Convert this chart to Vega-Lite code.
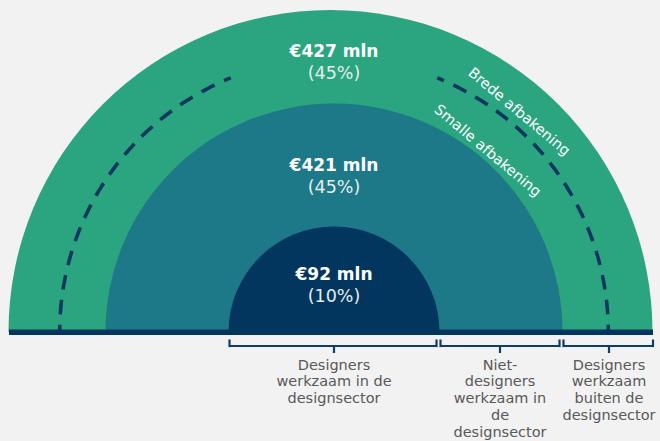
{
  "$schema": "https://vega.github.io/schema/vega-lite/v6.json",
  "width": 660,
  "height": 441,
  "autosize": {"type": "fit", "contains": "padding"},
  "padding": 0,
  "background": "#f2f2f2",
  "config": {"view": {"stroke": null}, "font": "DejaVu Sans"},
  "datasets": {
    "rings": [
      {"segment": "Designers werkzaam buiten de designsector", "value": 427, "share": "(45%)", "label": "€427 mln", "cum": 940, "ymid": 726.5},
      {"segment": "Niet-designers werkzaam in de designsector", "value": 421, "share": "(45%)", "label": "€421 mln", "cum": 513, "ymid": 302.5},
      {"segment": "Designers werkzaam in de designsector", "value": 92, "share": "(10%)", "label": "€92 mln", "cum": 92, "ymid": 46}
    ],
    "brackets": [
      {"segment": "Designers werkzaam in de designsector", "text": "Designers\nwerkzaam in de\ndesignsector", "lo": -92, "hi": 92, "mid": 0},
      {"segment": "Niet-designers werkzaam in de designsector", "text": "Niet-\ndesigners\nwerkzaam in\nde\ndesignsector", "lo": 92, "hi": 513, "mid": 302.5},
      {"segment": "Designers werkzaam buiten de designsector", "text": "Designers\nwerkzaam\nbuiten de\ndesignsector", "lo": 513, "hi": 940, "mid": 726.5}
    ],
    "one": [{"k": "Brede afbakening"}],
    "two": [{"k": "Smalle afbakening"}]
  },
  "layer": [
    {
      "data": {"name": "rings"},
      "transform": [{"filter": "datum.cum == 940"}],
      "mark": {"type": "arc", "theta": -1.5707963, "theta2": 1.5707963, "xOffset": -3.5},
      "encoding": {
        "x": {"datum": 0, "type": "quantitative", "axis": null, "scale": {"type": "linear", "domain": [-940, -513, -92, 0, 92, 302.5, 513, 726.5, 940], "range": [12, 105.5, 228.5, 334, 439.5, 500, 562.5, 609, 656], "nice": false, "zero": false}},
        "y": {"datum": 0, "type": "quantitative", "axis": null, "scale": {"type": "linear", "domain": [-109, 0, 46, 302.5, 726.5], "range": [441, 332, 285, 176.3, 62.2], "nice": false, "zero": false}},
        "radius": {"field": "cum", "type": "quantitative", "stack": null, "scale": {"type": "linear", "domain": [0, 92, 513, 940], "range": [0, 105.5, 228.5, 322], "zero": false, "nice": false}},
        "color": {"field": "segment", "type": "nominal", "legend": null, "scale": {"domain": ["Designers werkzaam buiten de designsector", "Niet-designers werkzaam in de designsector", "Designers werkzaam in de designsector"], "range": ["#2aa57f", "#1d7888", "#03365f"]}}
      }
    },
    {
      "data": {"name": "rings"},
      "transform": [{"filter": "datum.cum != 940"}],
      "mark": {"type": "arc", "theta": -1.5707963, "theta2": 1.5707963},
      "encoding": {
        "x": {"datum": 0, "type": "quantitative", "axis": null, "scale": {"type": "linear", "domain": [-940, -513, -92, 0, 92, 302.5, 513, 726.5, 940], "range": [12, 105.5, 228.5, 334, 439.5, 500, 562.5, 609, 656], "nice": false, "zero": false}},
        "y": {"datum": 0, "type": "quantitative", "axis": null, "scale": {"type": "linear", "domain": [-109, 0, 46, 302.5, 726.5], "range": [441, 332, 285, 176.3, 62.2], "nice": false, "zero": false}},
        "radius": {"field": "cum", "type": "quantitative", "stack": null, "scale": {"type": "linear", "domain": [0, 92, 513, 940], "range": [0, 105.5, 228.5, 322], "zero": false, "nice": false}},
        "color": {"field": "segment", "type": "nominal", "legend": null, "scale": {"domain": ["Designers werkzaam buiten de designsector", "Niet-designers werkzaam in de designsector", "Designers werkzaam in de designsector"], "range": ["#2aa57f", "#1d7888", "#03365f"]}}
      }
    },
    {
      "data": {"name": "one"},
      "mark": {"type": "arc", "theta": -1.5707963, "theta2": -0.3859623, "radius": 274.3, "radius2": 274.3, "filled": false, "stroke": "#03365f", "strokeWidth": 3.5, "strokeDash": [7.25, 10.5, 7.25, 0]},
      "encoding": {
        "x": {"datum": 0, "type": "quantitative", "axis": null, "scale": {"type": "linear", "domain": [-940, -513, -92, 0, 92, 302.5, 513, 726.5, 940], "range": [12, 105.5, 228.5, 334, 439.5, 500, 562.5, 609, 656], "nice": false, "zero": false}},
        "y": {"datum": 0, "type": "quantitative", "axis": null, "scale": {"type": "linear", "domain": [-109, 0, 46, 302.5, 726.5], "range": [441, 332, 285, 176.3, 62.2], "nice": false, "zero": false}}
      }
    },
    {
      "data": {"name": "one"},
      "mark": {"type": "arc", "theta": 0.3859623, "theta2": 1.5707963, "radius": 274.3, "radius2": 274.3, "filled": false, "stroke": "#03365f", "strokeWidth": 3.5, "strokeDash": [7.25, 10.5, 7.25, 0]},
      "encoding": {
        "x": {"datum": 0, "type": "quantitative", "axis": null, "scale": {"type": "linear", "domain": [-940, -513, -92, 0, 92, 302.5, 513, 726.5, 940], "range": [12, 105.5, 228.5, 334, 439.5, 500, 562.5, 609, 656], "nice": false, "zero": false}},
        "y": {"datum": 0, "type": "quantitative", "axis": null, "scale": {"type": "linear", "domain": [-109, 0, 46, 302.5, 726.5], "range": [441, 332, 285, 176.3, 62.2], "nice": false, "zero": false}}
      }
    },
    {
      "data": {"name": "one"},
      "mark": {"type": "rule", "strokeWidth": 5.6, "color": "#03365f", "xOffset": -3, "x2Offset": -3},
      "encoding": {
        "x": {"datum": -940, "type": "quantitative", "axis": null, "scale": {"type": "linear", "domain": [-940, -513, -92, 0, 92, 302.5, 513, 726.5, 940], "range": [12, 105.5, 228.5, 334, 439.5, 500, 562.5, 609, 656], "nice": false, "zero": false}},
        "x2": {"datum": 940},
        "y": {"datum": -0.2, "type": "quantitative", "axis": null, "scale": {"type": "linear", "domain": [-109, 0, 46, 302.5, 726.5], "range": [441, 332, 285, 176.3, 62.2], "nice": false, "zero": false}}
      }
    },
    {
      "data": {"name": "brackets"},
      "mark": {"type": "rule", "strokeWidth": 2.2, "color": "#0d3d68", "xOffset": 1, "x2Offset": -3},
      "encoding": {
        "x": {"field": "lo", "type": "quantitative", "axis": null, "scale": {"type": "linear", "domain": [-940, -513, -92, 0, 92, 302.5, 513, 726.5, 940], "range": [12, 105.5, 228.5, 334, 439.5, 500, 562.5, 609, 656], "nice": false, "zero": false}},
        "x2": {"field": "hi"},
        "y": {"datum": -14, "type": "quantitative", "axis": null, "scale": {"type": "linear", "domain": [-109, 0, 46, 302.5, 726.5], "range": [441, 332, 285, 176.3, 62.2], "nice": false, "zero": false}}
      }
    },
    {
      "data": {"name": "brackets"},
      "mark": {"type": "rule", "strokeWidth": 2.2, "color": "#0d3d68", "xOffset": 1},
      "encoding": {
        "x": {"field": "lo", "type": "quantitative", "axis": null, "scale": {"type": "linear", "domain": [-940, -513, -92, 0, 92, 302.5, 513, 726.5, 940], "range": [12, 105.5, 228.5, 334, 439.5, 500, 562.5, 609, 656], "nice": false, "zero": false}},
        "y": {"datum": -7.5, "type": "quantitative", "axis": null, "scale": {"type": "linear", "domain": [-109, 0, 46, 302.5, 726.5], "range": [441, 332, 285, 176.3, 62.2], "nice": false, "zero": false}},
        "y2": {"datum": -15.1}
      }
    },
    {
      "data": {"name": "brackets"},
      "mark": {"type": "rule", "strokeWidth": 2.2, "color": "#0d3d68", "xOffset": -3},
      "encoding": {
        "x": {"field": "hi", "type": "quantitative", "axis": null, "scale": {"type": "linear", "domain": [-940, -513, -92, 0, 92, 302.5, 513, 726.5, 940], "range": [12, 105.5, 228.5, 334, 439.5, 500, 562.5, 609, 656], "nice": false, "zero": false}},
        "y": {"datum": -7.5, "type": "quantitative", "axis": null, "scale": {"type": "linear", "domain": [-109, 0, 46, 302.5, 726.5], "range": [441, 332, 285, 176.3, 62.2], "nice": false, "zero": false}},
        "y2": {"datum": -15.1}
      }
    },
    {
      "data": {"name": "brackets"},
      "mark": {"type": "rule", "strokeWidth": 2.2, "color": "#0d3d68"},
      "encoding": {
        "x": {"field": "mid", "type": "quantitative", "axis": null, "scale": {"type": "linear", "domain": [-940, -513, -92, 0, 92, 302.5, 513, 726.5, 940], "range": [12, 105.5, 228.5, 334, 439.5, 500, 562.5, 609, 656], "nice": false, "zero": false}},
        "y": {"datum": -14, "type": "quantitative", "axis": null, "scale": {"type": "linear", "domain": [-109, 0, 46, 302.5, 726.5], "range": [441, 332, 285, 176.3, 62.2], "nice": false, "zero": false}},
        "y2": {"datum": -21}
      }
    },
    {
      "data": {"name": "brackets"},
      "mark": {"type": "text", "baseline": "top", "align": "center", "fontSize": 14.5, "lineHeight": 16.8, "lineBreak": "\n", "color": "#595959", "font": "DejaVu Sans"},
      "encoding": {
        "x": {"field": "mid", "type": "quantitative", "axis": null, "scale": {"type": "linear", "domain": [-940, -513, -92, 0, 92, 302.5, 513, 726.5, 940], "range": [12, 105.5, 228.5, 334, 439.5, 500, 562.5, 609, 656], "nice": false, "zero": false}},
        "y": {"datum": -26.5, "type": "quantitative", "axis": null, "scale": {"type": "linear", "domain": [-109, 0, 46, 302.5, 726.5], "range": [441, 332, 285, 176.3, 62.2], "nice": false, "zero": false}},
        "text": {"field": "text"}
      }
    },
    {
      "data": {"name": "rings"},
      "mark": {"type": "text", "baseline": "middle", "align": "center", "fontSize": 17, "fontWeight": "bold", "color": "#ffffff", "yOffset": -10.5, "font": "DejaVu Sans"},
      "encoding": {
        "x": {"datum": 0, "type": "quantitative", "axis": null, "scale": {"type": "linear", "domain": [-940, -513, -92, 0, 92, 302.5, 513, 726.5, 940], "range": [12, 105.5, 228.5, 334, 439.5, 500, 562.5, 609, 656], "nice": false, "zero": false}},
        "y": {"field": "ymid", "type": "quantitative", "axis": null, "scale": {"type": "linear", "domain": [-109, 0, 46, 302.5, 726.5], "range": [441, 332, 285, 176.3, 62.2], "nice": false, "zero": false}},
        "text": {"field": "label"}
      }
    },
    {
      "data": {"name": "rings"},
      "mark": {"type": "text", "baseline": "middle", "align": "center", "fontSize": 17.5, "color": "#e4eeeb", "yOffset": 11.5, "font": "DejaVu Sans"},
      "encoding": {
        "x": {"datum": 0, "type": "quantitative", "axis": null, "scale": {"type": "linear", "domain": [-940, -513, -92, 0, 92, 302.5, 513, 726.5, 940], "range": [12, 105.5, 228.5, 334, 439.5, 500, 562.5, 609, 656], "nice": false, "zero": false}},
        "y": {"field": "ymid", "type": "quantitative", "axis": null, "scale": {"type": "linear", "domain": [-109, 0, 46, 302.5, 726.5], "range": [441, 332, 285, 176.3, 62.2], "nice": false, "zero": false}},
        "text": {"field": "share"}
      }
    },
    {
      "data": {"name": "one"},
      "mark": {"type": "text", "baseline": "middle", "align": "center", "fontSize": 14.5, "color": "#ffffff", "radius": 287, "theta": 0.699, "angle": 40, "font": "DejaVu Sans"},
      "encoding": {
        "x": {"datum": 0, "type": "quantitative", "axis": null, "scale": {"type": "linear", "domain": [-940, -513, -92, 0, 92, 302.5, 513, 726.5, 940], "range": [12, 105.5, 228.5, 334, 439.5, 500, 562.5, 609, 656], "nice": false, "zero": false}},
        "y": {"datum": 0, "type": "quantitative", "axis": null, "scale": {"type": "linear", "domain": [-109, 0, 46, 302.5, 726.5], "range": [441, 332, 285, 176.3, 62.2], "nice": false, "zero": false}},
        "text": {"field": "k"}
      }
    },
    {
      "data": {"name": "two"},
      "mark": {"type": "text", "baseline": "middle", "align": "center", "fontSize": 14.5, "color": "#ffffff", "radius": 237, "theta": 0.703, "angle": 40, "font": "DejaVu Sans"},
      "encoding": {
        "x": {"datum": 0, "type": "quantitative", "axis": null, "scale": {"type": "linear", "domain": [-940, -513, -92, 0, 92, 302.5, 513, 726.5, 940], "range": [12, 105.5, 228.5, 334, 439.5, 500, 562.5, 609, 656], "nice": false, "zero": false}},
        "y": {"datum": 0, "type": "quantitative", "axis": null, "scale": {"type": "linear", "domain": [-109, 0, 46, 302.5, 726.5], "range": [441, 332, 285, 176.3, 62.2], "nice": false, "zero": false}},
        "text": {"field": "k"}
      }
    }
  ]
}
